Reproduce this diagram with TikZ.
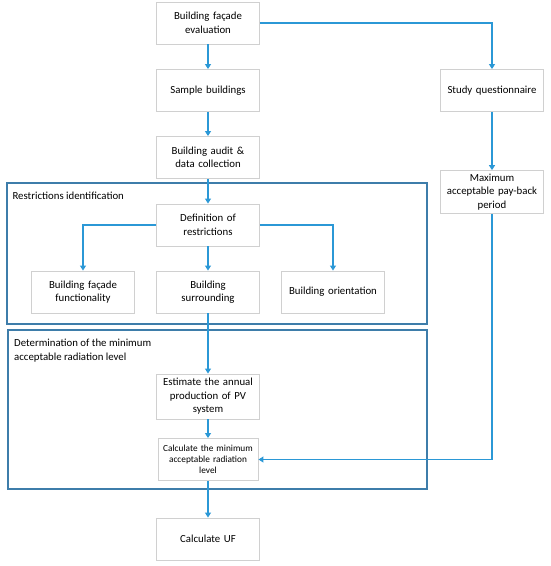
\documentclass[tikz,border=0pt]{standalone}
\usepackage{fontspec}
\setmainfont{Carlito}
\usepackage{tikz}
\usetikzlibrary{arrows.meta,positioning,calc}
\usepackage{xcolor}

\definecolor{flowblue}{RGB}{43,152,214}
\definecolor{frameblue}{RGB}{62,125,170}
\definecolor{boxgray}{RGB}{208,208,208}

\tikzset{
  stepbox/.style={draw=boxgray, line width=0.9pt, fill=white, align=center,
    minimum width=100pt, minimum height=42pt, text width=96pt,
    font=\fontsize{10.8}{13.5}\selectfont},
  flow/.style={draw=flowblue, line width=1.1pt, -{Triangle[width=6pt,length=5pt]}},
  frame/.style={draw=frameblue, line width=1.1pt}
}

\begin{document}
\begin{tikzpicture}[x=1pt, y=-1pt]
  \useasboundingbox (0,0) rectangle (550,566);

  % Frames
  \draw[frame] (7,183) rectangle (427,324);
  \node[anchor=west, font=\fontsize{10.8}{13}\selectfont] (restrlabel) at (9,196) {Restrictions identification};
  \draw[frame] (8,330) rectangle (427,489);
  \node[anchor=north west, align=left, inner sep=0pt, font=\fontsize{10.8}{14}\selectfont] (detlabel) at (14,339)
    {Determination of the minimum\\acceptable radiation level};

  % Main column
  \node[stepbox] (evaluation) at (208,23) {Building façade\\evaluation};
  \node[stepbox] (sample) at (208,90.5) {Sample buildings};
  \node[stepbox] (audit) at (208,157.5) {Building audit \&\\data collection};
  \node[stepbox] (definition) at (208,225) {Definition of\\restrictions};
  \node[stepbox] (functionality) at (83,292) {Building façade\\functionality};
  \node[stepbox] (surrounding) at (208,292) {Building\\surrounding};
  \node[stepbox] (orientation) at (333,292) {Building orientation};
  \node[stepbox, minimum height=45pt] (estimate) at (208,396.5) {Estimate the annual\\production of PV\\system};
  \node[stepbox, font=\fontsize{9.3}{11}\selectfont, inner sep=1pt] (minlevel) at (208,459.5)
    {Calculate the minimum\\acceptable radiation\\level};
  \node[stepbox] (uf) at (208,539) {Calculate UF};

  % Right column
  \node[stepbox] (questionnaire) at (492,90.5) {Study questionnaire};
  \node[stepbox] (payback) at (492,192) {Maximum\\acceptable pay-back\\period};

  % Connections
  \draw[flow] (evaluation) -- (sample);
  \draw[flow] (evaluation.east) -| (questionnaire.north);
  \draw[flow] (sample) -- (audit);
  \draw[flow] (audit) -- (definition);
  \draw[flow] (definition) -- (surrounding);
  \draw[flow] (definition.west) -| (functionality.north);
  \draw[flow] (definition.east) -| (orientation.north);
  \draw[flow] (surrounding) -- (estimate);
  \draw[flow] (estimate) -- (minlevel);
  \draw[flow] (minlevel) -- (uf);
  \draw[flow] (questionnaire) -- (payback);
  \draw[flow] (payback.south) |- (minlevel.east);
\end{tikzpicture}
\end{document}
